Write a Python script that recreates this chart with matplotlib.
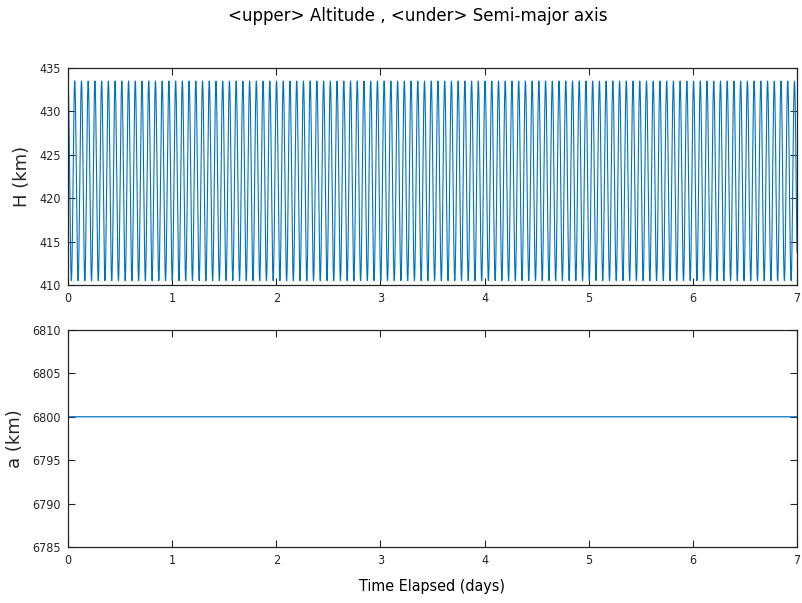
import numpy as np
import matplotlib
matplotlib.use("Agg")
import matplotlib.pyplot as plt

# Values
semi_major_axis_km = 6800.0          # constant line in lower panel
altitude_max_km = 433.5              # apogee altitude (upper panel peaks)
altitude_min_km = 410.5              # perigee altitude (upper panel troughs)
duration_days = 7.0
mu_earth = 398600.4418               # km^3/s^2
h_ticks = [410, 415, 420, 425, 430, 435]
a_ticks = [6785, 6790, 6795, 6800, 6805, 6810]
day_ticks = [0, 1, 2, 3, 4, 5, 6, 7]

# Orbit derived from the elements read above (starts at apogee)
period_s = 2 * np.pi * np.sqrt(semi_major_axis_km**3 / mu_earth)
t_days = np.linspace(0, duration_days, 20161)
mean_anom = 2 * np.pi * t_days * 86400 / period_s + np.pi
ecc = (altitude_max_km - altitude_min_km) / 2 / semi_major_axis_km
E = mean_anom.copy()
for _ in range(6):
    E = E - (E - ecc * np.sin(E) - mean_anom) / (1 - ecc * np.cos(E))
h_center = (altitude_max_km + altitude_min_km) / 2
altitude = h_center - (altitude_max_km - h_center) * np.cos(E)
sma = np.full_like(t_days, semi_major_axis_km)

color = "#0072bd"
text_color = "#262626"

fig = plt.figure(figsize=(8.03, 6.03), dpi=100)
ax1 = fig.add_axes([68/803, 1-285/603, 729/803, 217/603])
ax2 = fig.add_axes([68/803, 1-547/603, 729/803, 217/603])

ax1.plot(t_days, altitude, color=color, lw=0.8)
ax2.plot(t_days, sma, color=color, lw=0.9)

ax1.set_ylim(410, 435)
ax1.set_yticks(h_ticks)
ax2.set_ylim(6785, 6810)
ax2.set_yticks(a_ticks)

for ax in (ax1, ax2):
    ax.set_xlim(0, duration_days)
    ax.set_xticks(day_ticks)
    ax.tick_params(direction="in", top=True, right=True, length=5, width=0.8,
                   color=text_color, pad=5)
    for lab in ax.get_xticklabels() + ax.get_yticklabels():
        lab.set_fontfamily("DejaVu Sans")
        lab.set_fontstretch("condensed")
        lab.set_fontsize(9)
        lab.set_color(text_color)
    for sp in ax.spines.values():
        sp.set_linewidth(0.9)
        sp.set_color(text_color)

ax1.set_ylabel("H (km)", fontsize=13, labelpad=6, color=text_color)
ax2.set_ylabel("a (km)", fontsize=13, labelpad=6, color=text_color)
ax2.set_xlabel("Time Elapsed (days)", fontsize=11.5, fontstretch="condensed",
               labelpad=9)

fig.text(418/803, 1-16/603, "<upper> Altitude , <under> Semi-major axis",
         ha="center", va="center", fontsize=13.3, fontstretch="condensed")

fig.savefig("out.png", dpi=100)
